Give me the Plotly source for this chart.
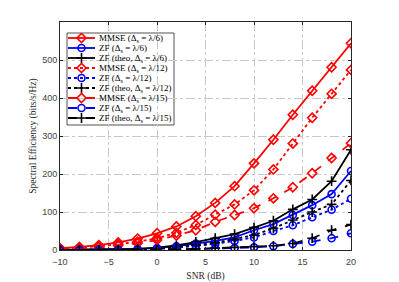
import plotly.graph_objects as go

snr = [-10, -8, -6, -4, -2, 0, 2, 4, 6, 8, 10, 12, 14, 16, 18, 20]

mmse_6 = [5, 8, 13, 20, 30, 44, 62, 89, 124, 168, 228, 290, 356, 419, 481, 544]
zf_6 = [0.3, 0.5, 0.9, 1.5, 2.8, 5, 10, 17, 24, 33, 52, 68, 92, 118, 147, 208]
zf_theo_6 = [0.3, 0.6, 1, 1.7, 3.2, 6, 12, 21, 31, 42, 59, 77, 107, 133, 181, 264]
mmse_12 = [4, 6, 10, 15, 22, 31, 45, 66, 93, 120, 157, 212, 280, 348, 411, 474]
zf_12 = [0.15, 0.25, 0.4, 0.7, 1.2, 2.5, 6, 11, 16, 24, 33, 50, 65, 86, 106, 135]
zf_theo_12 = [0.2, 0.3, 0.5, 0.9, 1.6, 3.5, 8, 13, 19, 28, 39, 57, 79, 100, 120, 183]
mmse_15 = [3, 5, 8, 12, 18, 26, 38, 52, 74, 92, 110, 136, 165, 202, 242, 281]
zf_15 = [0.05, 0.1, 0.15, 0.25, 0.4, 0.8, 1.5, 2.5, 4, 5, 7, 10, 16, 22, 31, 44]
zf_theo_15 = [0.05, 0.1, 0.2, 0.3, 0.5, 1, 2, 3, 5, 7, 9, 11, 17, 31, 52, 67]

names = [
    "MMSE (Δ<sub>s</sub> = λ/6)",
    "ZF (Δ<sub>s</sub> = λ/6)",
    "ZF (theo, Δ<sub>s</sub> = λ/6)",
    "MMSE (Δ<sub>s</sub> = λ/12)",
    "ZF (Δ<sub>s</sub> = λ/12)",
    "ZF (theo, Δ<sub>s</sub> = λ/12)",
    "MMSE (Δ<sub>s</sub> = λ/15)",
    "ZF (Δ<sub>s</sub> = λ/15)",
    "ZF (theo, Δ<sub>s</sub> = λ/15)",
]
series = [mmse_6, zf_6, zf_theo_6, mmse_12, zf_12, zf_theo_12, mmse_15, zf_15, zf_theo_15]
colors = ["#ff0000", "#0000ff", "#000000"] * 3
symbols = ["diamond-open", "circle-open", "cross-thin-open"] * 3
msizes = [7, 7, 7] * 3
dashes = ["solid"] * 3 + ["dot"] * 3 + ["dash"] * 3

fig = go.Figure()
for y, c, s, ms, d in zip(series, colors, symbols, msizes, dashes):
    fig.add_trace(go.Scatter(
        x=snr, y=y, mode="lines+markers", showlegend=False,
        line=dict(color=c, width=1.8, dash=d),
        marker=dict(symbol=s, size=ms, color=c, line=dict(color=c, width=1.6)),
    ))

# custom legend drawn on an auxiliary subplot (pixel-like units inside the legend box)
for i, (c, s, ms, d, nm) in enumerate(zip(colors, symbols, msizes, dashes, names)):
    ry = 5 + 10 * i
    fig.add_trace(go.Scatter(
        x=[1, 28], y=[ry, ry], mode="lines", xaxis="x2", yaxis="y2", showlegend=False,
        line=dict(color=c, width=1.8, dash=d), hoverinfo="skip",
    ))
    fig.add_trace(go.Scatter(
        x=[14.5], y=[ry], mode="markers", xaxis="x2", yaxis="y2", showlegend=False,
        marker=dict(symbol=s, size=ms, color=c, line=dict(color=c, width=1.6)), hoverinfo="skip",
    ))
    fig.add_annotation(x=30, y=ry, xref="x2", yref="y2", text=nm, showarrow=False,
                       xanchor="left", yanchor="middle",
                       font=dict(family="Liberation Serif", size=9, color="#000000"))

lx0, lx1 = (67 - 60) / 291, (174 - 60) / 291
ly0, ly1 = (250 - 125) / 228, (250 - 33) / 228

fig.add_shape(type="rect", xref="paper", yref="paper", x0=lx0, x1=lx1, y0=ly0, y1=ly1,
              fillcolor="white", line=dict(color="#262626", width=0.8), layer="between")

axcol = "#262626"
fig.update_layout(
    width=391, height=274,
    margin=dict(l=52, r=48, t=14, b=32),
    paper_bgcolor="white", plot_bgcolor="rgba(0,0,0,0)",
    xaxis=dict(range=[-10, 20], tickvals=[-10, -5, 0, 5, 10, 15, 20], automargin=False,
               showgrid=True, gridcolor="#c8c8c8", griddash="dashdot", gridwidth=0.6,
               zeroline=False, showline=True, linecolor=axcol, linewidth=0.8, mirror="ticks",
               ticks="inside", ticklen=3, tickcolor=axcol, ticklabelstandoff=3,
               tickfont=dict(family="Liberation Sans", size=9, color="#404040"),
               title=dict(text="SNR (dB)", standoff=6,
                          font=dict(family="Liberation Serif", size=9.5, color="#262626"))),
    yaxis=dict(range=[0, 600], tickvals=[0, 100, 200, 300, 400, 500], automargin=False,
               showgrid=True, gridcolor="#c8c8c8", griddash="dashdot", gridwidth=0.6,
               zeroline=False, showline=True, linecolor=axcol, linewidth=0.8, mirror="ticks",
               ticks="inside", ticklen=3, tickcolor=axcol,
               tickfont=dict(family="Liberation Sans", size=9, color="#404040"),
               title=dict(text="Spectral Efficiency (bits/s/Hz)", standoff=3,
                          font=dict(family="Liberation Serif", size=9.5, color="#262626"))),
    xaxis2=dict(domain=[lx0, lx1], range=[0, 107], anchor="y2", automargin=False,
                visible=False, fixedrange=True),
    yaxis2=dict(domain=[ly0, ly1], range=[92, 0], anchor="x2", automargin=False,
                visible=False, fixedrange=True),
)

fig.write_html("out.html")
